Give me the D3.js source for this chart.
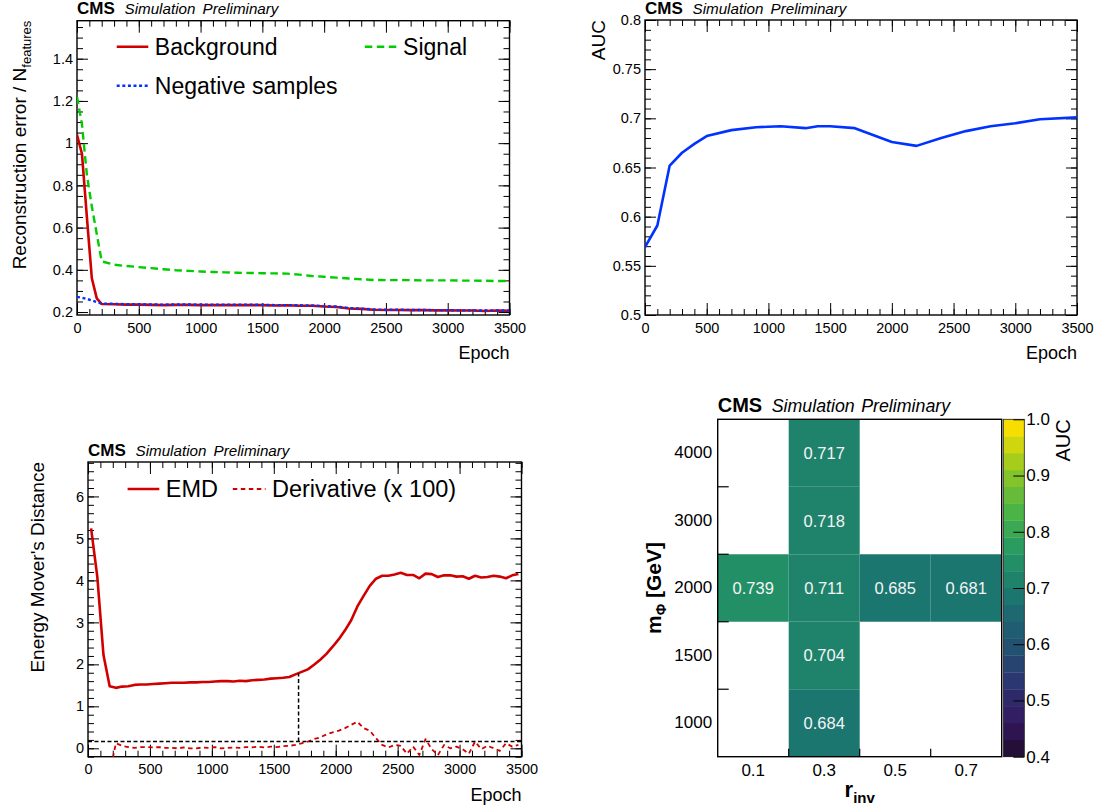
<!DOCTYPE html>
<html>
<head>
<meta charset="utf-8">
<script src="https://cdn.jsdelivr.net/npm/d3@7"></script>
<style>
  body { margin: 0; background: #fff; }
  svg { display: block; }
</style>
</head>
<body>
<script>
// ---- data: reconstruction error vs epoch (top left)
const lossEpochs = [0, 40, 80, 120, 160, 200, 300, 400, 500, 600, 700, 800, 900, 1000, 1100, 1200, 1300, 1400, 1500,
  1600, 1700, 1800, 1900, 2000, 2100, 2200, 2300, 2400, 2500, 2600, 2700, 2800, 2900, 3000, 3100, 3200, 3300, 3400, 3500];
const backgroundLoss = [1.04, 0.95, 0.65, 0.36, 0.265, 0.238, 0.237, 0.235, 0.235, 0.234, 0.233, 0.234, 0.234, 0.233, 0.233,
  0.233, 0.233, 0.233, 0.233, 0.231, 0.232, 0.230, 0.230, 0.226, 0.224, 0.217, 0.215, 0.211, 0.210, 0.210, 0.209, 0.209,
  0.208, 0.208, 0.207, 0.207, 0.205, 0.207, 0.206];
const signalLoss = [1.22, 1.09, 0.85, 0.70, 0.57, 0.44, 0.424, 0.418, 0.413, 0.408, 0.403, 0.398, 0.395, 0.392, 0.390,
  0.388, 0.386, 0.385, 0.384, 0.383, 0.382, 0.377, 0.371, 0.367, 0.363, 0.359, 0.355, 0.352, 0.351, 0.351, 0.351, 0.350,
  0.350, 0.350, 0.349, 0.349, 0.348, 0.347, 0.347];
const negativeLoss = [0.272, 0.268, 0.262, 0.255, 0.247, 0.240, 0.239, 0.237, 0.237, 0.236, 0.235, 0.236, 0.236, 0.235,
  0.235, 0.235, 0.235, 0.235, 0.234, 0.233, 0.233, 0.232, 0.231, 0.228, 0.226, 0.219, 0.216, 0.212, 0.211, 0.211, 0.210,
  0.210, 0.209, 0.209, 0.208, 0.208, 0.207, 0.208, 0.207];
const lossTicks = [0.2, 0.4, 0.6, 0.8, 1, 1.2, 1.4];

// ---- data: AUC vs epoch (top right)
const aucEpochs = [0, 100, 200, 300, 400, 500, 700, 900, 1100, 1300, 1400, 1500, 1700, 2000, 2200, 2400, 2600, 2800, 3000, 3200, 3500];
const aucValues = [0.569, 0.591, 0.652, 0.665, 0.674, 0.682, 0.688, 0.691, 0.692, 0.690, 0.692, 0.692, 0.690, 0.676, 0.672,
  0.680, 0.687, 0.692, 0.695, 0.699, 0.701];
const aucTicks = [0.5, 0.55, 0.6, 0.65, 0.7, 0.75, 0.8];

// ---- data: energy mover's distance (bottom left)
const emdEpochs = [25, 75, 125, 175, 225, 275, 325, 375, 425, 475, 525, 575, 625, 675, 725, 775, 825, 875, 925, 975,
  1025, 1075, 1125, 1175, 1225, 1275, 1325, 1375, 1425, 1475, 1525, 1575, 1625, 1675, 1725, 1775, 1825, 1875, 1925, 1975,
  2025, 2075, 2125, 2175, 2225, 2275, 2325, 2375, 2425, 2475, 2525, 2575, 2625, 2675, 2725, 2775, 2825, 2875, 2925, 2975,
  3025, 3075, 3125, 3175, 3225, 3275, 3325, 3375, 3425, 3475];
const emdValues = [5.24, 4.09, 2.22, 1.48, 1.44, 1.47, 1.48, 1.51, 1.52, 1.52, 1.53, 1.54, 1.55, 1.56, 1.56, 1.56, 1.57, 1.57,
  1.58, 1.58, 1.59, 1.60, 1.60, 1.59, 1.61, 1.60, 1.62, 1.63, 1.64, 1.66, 1.67, 1.68, 1.70, 1.76, 1.82, 1.88, 1.99, 2.11,
  2.25, 2.42, 2.60, 2.81, 3.05, 3.38, 3.63, 3.87, 4.04, 4.11, 4.11, 4.14, 4.18, 4.13, 4.13, 4.05, 4.16, 4.15, 4.08, 4.12,
  4.12, 4.09, 4.10, 4.04, 4.11, 4.07, 4.08, 4.11, 4.09, 4.05, 4.12, 4.15];
const derivEpochs = emdEpochs.slice(3);
const derivValues = [-0.6, 0.12, 0.06, 0.03, 0.01, 0.03, 0.03, 0.02, 0.03, 0.01, 0.01, 0.0, 0.02, 0.0, 0.0, 0.02, 0.01,
  0.03, 0.0, 0.01, 0.02, 0.01, 0.03, 0.02, 0.04, 0.02, 0.04, 0.03, 0.05, 0.06, 0.08, 0.12, 0.16, 0.22, 0.26, 0.33, 0.38,
  0.42, 0.48, 0.56, 0.63, 0.48, 0.42, 0.24, 0.08, 0.02, 0.08, 0.06, -0.13, 0.04, -0.16, 0.22, -0.02, -0.16, 0.08, 0.0,
  0.04, -0.02, -0.13, 0.16, -0.02, 0.06, 0.0, -0.06, 0.12, 0.04, 0.08];
const derivThreshold = 0.16;
const stopEpoch = 1700;
const emdTicks = [0, 1, 2, 3, 4, 5, 6];

// ---- data: AUC grid (bottom right)
const rinvLabels = ["0.1", "0.3", "0.5", "0.7"];
const massLabels = ["1000", "1500", "2000", "3000", "4000"];
const cellRinv = ["0.3", "0.3", "0.1", "0.3", "0.5", "0.7", "0.3", "0.3"];
const cellMass = ["1000", "1500", "2000", "2000", "2000", "2000", "3000", "4000"];
const cellAUC = [0.684, 0.704, 0.739, 0.711, 0.685, 0.681, 0.718, 0.717];
const colorTicks = [0.4, 0.5, 0.6, 0.7, 0.8, 0.9, 1.0];

const epochTicks = [0, 500, 1000, 1500, 2000, 2500, 3000, 3500];

// ROOT kViridis palette stops
const palR = [26, 51, 43, 33, 28, 35, 74, 144, 246];
const palG = [9, 24, 55, 87, 118, 150, 180, 200, 222];
const palB = [30, 96, 112, 114, 112, 101, 72, 35, 0];

const FONT = '"Liberation Sans", Arial, Helvetica, sans-serif';
const RED = "#d10000", GREEN = "#00cc00", BLUE = "#0033ff";

const svg = d3.select("body").append("svg")
  .attr("width", 1101).attr("height", 812)
  .attr("font-family", FONT);
svg.append("rect").attr("width", 1101).attr("height", 812).attr("fill", "#fff");

// style an axis group the ROOT way
function styleAxis(g, size) {
  g.attr("font-family", null).attr("font-size", null);
  g.select(".domain").remove();
  g.selectAll(".tick line").attr("stroke", "#000").attr("stroke-width", 1);
  g.selectAll(".tick text").attr("fill", "#000").attr("font-size", size);
}

function cmsLabel(x, y, big) {
  const t = svg.append("g");
  t.append("text").attr("x", x).attr("y", y).attr("font-weight", "bold")
    .attr("font-size", big ? 20 : 17).text("CMS");
  t.append("text").attr("x", x + (big ? 54 : 47.5)).attr("y", y).attr("font-style", "italic")
    .attr("font-size", big ? 17.8 : 15.2).text("Simulation");
  t.append("text").attr("x", x + (big ? 143.5 : 125.5)).attr("y", y).attr("font-style", "italic")
    .attr("font-size", big ? 17.8 : 15.2).text("Preliminary");
}

// frame with inner ticks on four sides, returns the scales
function framePanel(o) {
  const x = d3.scaleLinear().domain([0, 3500]).range([o.left, o.right]);
  const y = d3.scaleLinear().domain(o.yDomain).range([o.bottom, o.top]);
  const xMinor = d3.range(0, 3501, 100);
  const yMinor = d3.range(Math.ceil(o.yDomain[0] / o.yMinorStep) * o.yMinorStep, o.yDomain[1], o.yMinorStep);
  const g = svg.append("g");

  const addAxis = (axis, tr, major, label) => {
    const a = g.append("g").attr("transform", tr).call(axis);
    styleAxis(a, 14.5);
    return a;
  };
  // bottom
  addAxis(d3.axisBottom(x).tickValues(epochTicks).tickSize(-12).tickSizeOuter(0).tickPadding(7.5).tickFormat(d3.format("d")),
    `translate(0,${o.bottom})`);
  addAxis(d3.axisBottom(x).tickValues(xMinor).tickSize(-6).tickSizeOuter(0).tickFormat(""), `translate(0,${o.bottom})`);
  // top
  addAxis(d3.axisTop(x).tickValues(epochTicks).tickSize(-12).tickSizeOuter(0).tickFormat(""), `translate(0,${o.top})`);
  addAxis(d3.axisTop(x).tickValues(xMinor).tickSize(-6).tickSizeOuter(0).tickFormat(""), `translate(0,${o.top})`);
  // left
  addAxis(d3.axisLeft(y).tickValues(o.yTicks).tickSize(-11).tickSizeOuter(0).tickPadding(4).tickFormat(d => String(d)),
    `translate(${o.left},0)`);
  addAxis(d3.axisLeft(y).tickValues(yMinor).tickSize(-6).tickSizeOuter(0).tickFormat(""), `translate(${o.left},0)`);
  // right
  addAxis(d3.axisRight(y).tickValues(o.yTicks).tickSize(-11).tickSizeOuter(0).tickFormat(""), `translate(${o.right},0)`);
  addAxis(d3.axisRight(y).tickValues(yMinor).tickSize(-6).tickSizeOuter(0).tickFormat(""), `translate(${o.right},0)`);

  g.append("rect").attr("x", o.left).attr("y", o.top)
    .attr("width", o.right - o.left).attr("height", o.bottom - o.top)
    .attr("fill", "none").attr("stroke", "#000").attr("stroke-width", 1.4);

  const clipId = "clip" + Math.round(o.left) + "_" + Math.round(o.top);
  svg.append("clipPath").attr("id", clipId).append("rect")
    .attr("x", o.left).attr("y", o.top).attr("width", o.right - o.left).attr("height", o.bottom - o.top);
  const plot = svg.append("g").attr("clip-path", `url(#${clipId})`);

  svg.append("text").attr("x", o.right).attr("y", o.bottom + 44).attr("text-anchor", "end")
    .attr("font-size", 18).text("Epoch");
  cmsLabel(o.left, o.top - 6.5, false);
  return { x, y, plot };
}

function drawLine(p, xs, ys, color, width, dash) {
  const line = d3.line().x(d => p.x(d[0])).y(d => p.y(d[1]));
  p.plot.append("path").datum(xs.map((e, i) => [e, ys[i]]))
    .attr("d", line).attr("fill", "none").attr("stroke", color)
    .attr("stroke-width", width).attr("stroke-linejoin", "round")
    .attr("stroke-dasharray", dash || null);
}

function legendEntry(x1, x2, y, color, width, dash, label, size) {
  svg.append("line").attr("x1", x1).attr("x2", x2).attr("y1", y).attr("y2", y)
    .attr("stroke", color).attr("stroke-width", width).attr("stroke-dasharray", dash || null);
  svg.append("text").attr("x", x2 + 6.5).attr("y", y + 0.36 * size).attr("font-size", size).text(label);
}

// ---------- top left: reconstruction error
const tl = framePanel({ left: 77, right: 509.5, top: 20.7, bottom: 315, yDomain: [0.186, 1.58], yTicks: lossTicks, yMinorStep: 0.05 });
drawLine(tl, lossEpochs, backgroundLoss, RED, 2.6);
drawLine(tl, lossEpochs, signalLoss, GREEN, 2.4, "7.5,4.5");
drawLine(tl, lossEpochs, negativeLoss, BLUE, 2.4, "3,2.6");
const tlTitle = svg.append("text").attr("transform", "translate(26,20.7) rotate(-90)")
  .attr("text-anchor", "end").attr("font-size", 19);
tlTitle.append("tspan").text("Reconstruction error / N");
tlTitle.append("tspan").attr("font-size", 13).attr("dy", 5).text("features");
legendEntry(116.7, 148.3, 46.7, RED, 2.6, null, "Background", 23);
legendEntry(364.8, 396.6, 46.7, GREEN, 2.4, "7.5,4.5", "Signal", 23);
legendEntry(116.7, 148.3, 85.7, BLUE, 2.4, "3,2.6", "Negative samples", 23);

// ---------- top right: AUC
const tr = framePanel({ left: 645, right: 1077, top: 20, bottom: 315, yDomain: [0.5, 0.8], yTicks: aucTicks, yMinorStep: 0.01 });
drawLine(tr, aucEpochs, aucValues, BLUE, 2.6);
svg.append("text").attr("transform", "translate(605,20) rotate(-90)")
  .attr("text-anchor", "end").attr("font-size", 19).text("AUC");

// ---------- bottom left: EMD
const bl = framePanel({ left: 88, right: 521.5, top: 462, bottom: 756.7, yDomain: [-0.2, 6.82], yTicks: emdTicks, yMinorStep: 0.2 });
drawLine(bl, derivEpochs, derivValues, RED, 1.8, "4.5,3.5");
drawLine(bl, emdEpochs, emdValues, RED, 2.6);
bl.plot.append("line").attr("x1", bl.x(0)).attr("x2", bl.x(3500))
  .attr("y1", bl.y(derivThreshold)).attr("y2", bl.y(derivThreshold))
  .attr("stroke", "#000").attr("stroke-width", 1.5).attr("stroke-dasharray", "4,2.5");
const emdAtStop = d3.scaleLinear().domain(emdEpochs).range(emdValues)(stopEpoch);
bl.plot.append("line").attr("x1", bl.x(stopEpoch)).attr("x2", bl.x(stopEpoch))
  .attr("y1", bl.y(derivThreshold)).attr("y2", bl.y(emdAtStop))
  .attr("stroke", "#000").attr("stroke-width", 1.5).attr("stroke-dasharray", "4,2.5");
svg.append("text").attr("transform", "translate(43.5,462) rotate(-90)")
  .attr("text-anchor", "end").attr("font-size", 19).text("Energy Mover's Distance");
legendEntry(127.6, 159.3, 489, RED, 2.6, null, "EMD", 23.5);
legendEntry(232.8, 265.5, 489, RED, 1.8, "4.5,3.5", "Derivative (x 100)", 23.5);

// ---------- bottom right: AUC grid
const hm = { left: 717.7, right: 1001.7, top: 419.3, bottom: 756.7 };
const xb = d3.scaleBand().domain(rinvLabels).range([hm.left, hm.right]);
const yb = d3.scaleBand().domain(massLabels).range([hm.bottom, hm.top]);
const palette = t => {
  const pos = d3.range(9).map(i => i / 8);
  const c = ch => d3.scaleLinear().domain(pos).range(ch)(t);
  return d3.rgb(c(palR), c(palG), c(palB)).formatHex();
};
const nLevels = 20;
const levelColors = d3.range(nLevels).map(i => palette(Math.floor((i + 0.99) * 255 / nLevels) / 254));
const colorOf = d3.scaleQuantize().domain([0.4, 1.0]).range(levelColors);

const cells = cellAUC.map((v, i) => ({ r: cellRinv[i], m: cellMass[i], v }));
svg.append("g").selectAll("rect").data(cells).join("rect")
  .attr("x", d => xb(d.r)).attr("y", d => yb(d.m))
  .attr("width", xb.bandwidth()).attr("height", yb.bandwidth())
  .attr("fill", d => colorOf(d.v));
svg.append("g").selectAll("text").data(cells).join("text")
  .attr("x", d => xb(d.r) + xb.bandwidth() / 2).attr("y", d => yb(d.m) + yb.bandwidth() / 2 + 6)
  .attr("text-anchor", "middle").attr("font-size", 16.5).attr("fill", "#f4f4f4")
  .text(d => d3.format(".3f")(d.v));

// axes with labels at bin centres, ticks at bin edges
const hx = svg.append("g").attr("transform", `translate(0,${hm.bottom})`)
  .call(d3.axisBottom(xb).tickSize(0).tickPadding(7.5));
styleAxis(hx, 17);
const hy = svg.append("g").attr("transform", `translate(${hm.left},0)`)
  .call(d3.axisLeft(yb).tickSize(0).tickPadding(5.5));
styleAxis(hy, 17);
svg.append("g").selectAll("line").data(massLabels.slice(1)).join("line")
  .attr("x1", hm.left).attr("x2", hm.left + 11)
  .attr("y1", d => yb(d) + yb.bandwidth()).attr("y2", d => yb(d) + yb.bandwidth())
  .attr("stroke", "#000").attr("stroke-width", 1.2);
svg.append("g").selectAll("line").data(rinvLabels.slice(1)).join("line")
  .attr("x1", d => xb(d)).attr("x2", d => xb(d))
  .attr("y1", hm.bottom).attr("y2", hm.bottom - 8)
  .attr("stroke", "#000").attr("stroke-width", 1.2);
svg.append("rect").attr("x", hm.left).attr("y", hm.top)
  .attr("width", hm.right - hm.left).attr("height", hm.bottom - hm.top)
  .attr("fill", "none").attr("stroke", "#000").attr("stroke-width", 1.4);

// colour bar
const cb = { left: 1003.3, right: 1024.3 };
const cy = d3.scaleLinear().domain([0.4, 1.0]).range([hm.bottom, hm.top]);
const levelEdges = d3.range(nLevels).map(i => 0.4 + i * 0.6 / nLevels);
svg.append("g").selectAll("rect").data(levelEdges).join("rect")
  .attr("x", cb.left).attr("width", cb.right - cb.left)
  .attr("y", d => cy(d + 0.6 / nLevels)).attr("height", d => cy(d) - cy(d + 0.6 / nLevels) + 0.3)
  .attr("fill", (d, i) => levelColors[i]);
svg.append("rect").attr("x", cb.left).attr("y", hm.top)
  .attr("width", cb.right - cb.left).attr("height", hm.bottom - hm.top)
  .attr("fill", "none").attr("stroke", "#222").attr("stroke-width", 0.8);
const ca = svg.append("g").attr("transform", `translate(${cb.right},0)`)
  .call(d3.axisRight(cy).tickValues(colorTicks).tickSize(-11).tickSizeOuter(0).tickPadding(2).tickFormat(d3.format(".1f")));
styleAxis(ca, 17);
svg.append("text").attr("transform", "translate(1070,419.3) rotate(-90)")
  .attr("text-anchor", "end").attr("font-size", 20).text("AUC");

// titles
const mt = svg.append("text").attr("transform", `translate(661,${(hm.top + hm.bottom) / 2}) rotate(-90)`)
  .attr("text-anchor", "middle").attr("font-size", 21).attr("font-weight", "bold");
mt.append("tspan").text("m");
mt.append("tspan").attr("font-size", 14).attr("dy", 5).text("\u03A6");
mt.append("tspan").attr("dy", -5).text(" [GeV]");
const rt = svg.append("text").attr("x", (hm.left + hm.right) / 2).attr("y", 797)
  .attr("text-anchor", "middle").attr("font-size", 22).attr("font-weight", "bold");
rt.append("tspan").text("r");
rt.append("tspan").attr("font-size", 15).attr("dy", 6).text("inv");
cmsLabel(hm.left, 411.7, true);
</script>
</body>
</html>
